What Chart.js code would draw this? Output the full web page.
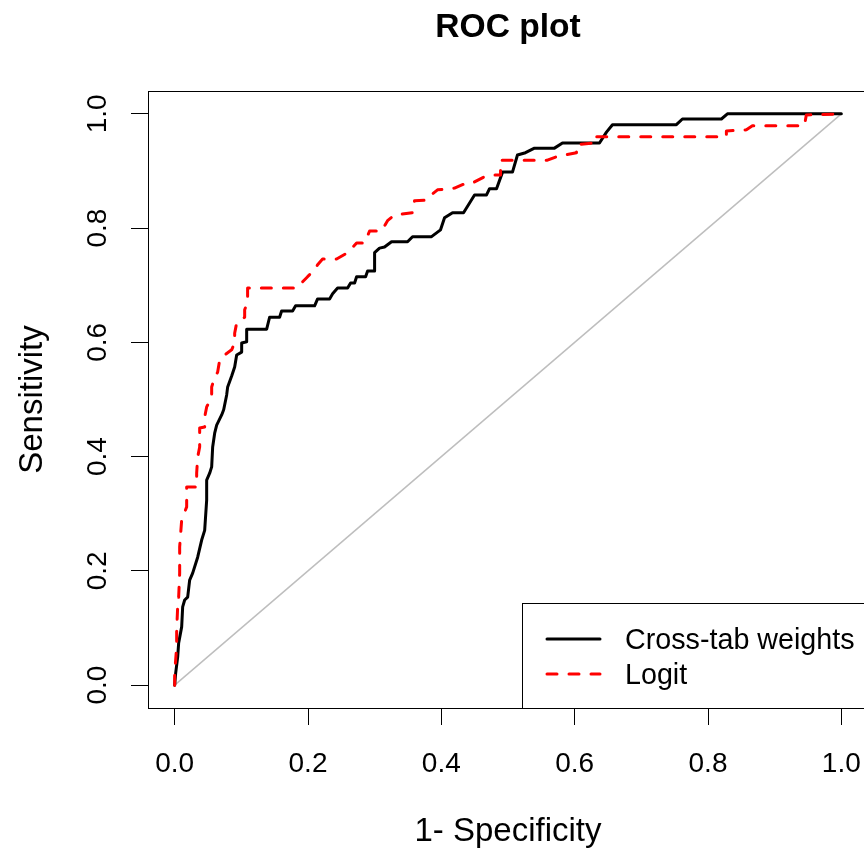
<!DOCTYPE html>
<html>
<head>
<meta charset="utf-8">
<script src="https://cdn.jsdelivr.net/npm/chart.js@4/dist/chart.umd.min.js"></script>
<style>
  html, body { margin: 0; padding: 0; overflow: hidden; background: #fff; }
  #wrap { width: 900px; height: 852px; }
</style>
</head>
<body>
<div id="wrap"><canvas id="roc" width="900" height="852"></canvas></div>
<script>
// Cross-tab weights ROC curve
const crossX = [0, 0.0015, 0.0045, 0.006, 0.0105, 0.012, 0.015, 0.0195, 0.0225, 0.027, 0.0345, 0.0405, 0.045, 0.048, 0.048, 0.0525, 0.0555, 0.057, 0.06, 0.063, 0.0705, 0.0735, 0.078, 0.0795, 0.0855, 0.09, 0.093, 0.1005, 0.1005, 0.108, 0.108, 0.138, 0.1424, 0.1574, 0.1604, 0.1769, 0.1814, 0.2099, 0.2144, 0.2324, 0.2369, 0.2444, 0.2594, 0.2639, 0.2699, 0.2729, 0.2864, 0.2894, 0.2999, 0.2999, 0.3073, 0.3148, 0.3253, 0.3493, 0.3568, 0.3853, 0.3988, 0.4048, 0.4168, 0.4333, 0.4498, 0.4678, 0.4723, 0.4828, 0.4918, 0.5067, 0.5142, 0.5262, 0.5397, 0.5697, 0.5817, 0.6372, 0.6477, 0.6567, 0.7526, 0.7616, 0.8201, 0.8291, 1]
const crossY = [0, 0.021, 0.049, 0.074, 0.102, 0.137, 0.149, 0.154, 0.184, 0.196, 0.224, 0.254, 0.271, 0.324, 0.359, 0.371, 0.382, 0.417, 0.441, 0.455, 0.473, 0.482, 0.508, 0.522, 0.541, 0.557, 0.578, 0.583, 0.599, 0.601, 0.623, 0.623, 0.644, 0.644, 0.655, 0.655, 0.664, 0.664, 0.676, 0.676, 0.685, 0.695, 0.695, 0.704, 0.704, 0.715, 0.715, 0.725, 0.725, 0.757, 0.765, 0.767, 0.776, 0.776, 0.785, 0.785, 0.797, 0.818, 0.827, 0.827, 0.858, 0.858, 0.869, 0.869, 0.898, 0.898, 0.928, 0.932, 0.94, 0.94, 0.949, 0.949, 0.968, 0.981, 0.981, 0.991, 0.991, 1, 1]

// Logit ROC curve
const logitX = [0, 0, 0.003, 0.003, 0.0045, 0.006, 0.0075, 0.0075, 0.0105, 0.018, 0.018, 0.033, 0.033, 0.0345, 0.0375, 0.0375, 0.045, 0.045, 0.048, 0.0555, 0.0555, 0.06, 0.0645, 0.0675, 0.075, 0.0855, 0.09, 0.09, 0.093, 0.105, 0.105, 0.1094, 0.1094, 0.1829, 0.1919, 0.1994, 0.2099, 0.2144, 0.2219, 0.2429, 0.2594, 0.2729, 0.2849, 0.2924, 0.3103, 0.3193, 0.3298, 0.3568, 0.3598, 0.3778, 0.3868, 0.3943, 0.4198, 0.4378, 0.4468, 0.4648, 0.4768, 0.4888, 0.4888, 0.5592, 0.5727, 0.6027, 0.6027, 0.6267, 0.6267, 0.8276, 0.8276, 0.8576, 0.8666, 0.9445, 0.9475, 1]
const logitY = [0, 0.021, 0.067, 0.096, 0.137, 0.154, 0.196, 0.242, 0.289, 0.312, 0.347, 0.347, 0.371, 0.399, 0.417, 0.45, 0.452, 0.469, 0.487, 0.504, 0.522, 0.538, 0.548, 0.569, 0.578, 0.587, 0.599, 0.616, 0.634, 0.644, 0.657, 0.671, 0.695, 0.695, 0.706, 0.715, 0.727, 0.736, 0.746, 0.746, 0.757, 0.774, 0.774, 0.795, 0.795, 0.813, 0.823, 0.827, 0.848, 0.849, 0.86, 0.867, 0.87, 0.879, 0.879, 0.89, 0.893, 0.893, 0.919, 0.919, 0.925, 0.932, 0.946, 0.949, 0.96, 0.96, 0.97, 0.972, 0.979, 0.979, 0.998, 1]

// chance line
const diagX = [0, 1]
const diagY = [0, 1]

const tickVals = [0, 0.2, 0.4, 0.6, 0.8, 1]
const tickLabels = ['0.0', '0.2', '0.4', '0.6', '0.8', '1.0']

const FONT = '"Liberation Sans", Arial, sans-serif'

const toPoints = (xs, ys) => xs.map((x, i) => ({ x: x, y: ys[i] }))

// R style: full box, title and a bottomright legend
const rStyle = {
  id: 'rStyle',
  afterDatasetsDraw(chart) {
    const { ctx, chartArea: a } = chart
    ctx.save()
    ctx.strokeStyle = '#000'
    ctx.lineWidth = 1
    ctx.strokeRect(a.left + 0.5, a.top + 0.5, a.right - a.left, a.bottom - a.top)

    // legend
    const lx = 522, ly = 603
    ctx.fillStyle = '#fff'
    ctx.fillRect(lx, ly, a.right - lx, a.bottom - ly)
    ctx.strokeRect(lx + 0.5, ly + 0.5, a.right - lx, a.bottom - ly)
    const items = [chart.data.datasets[0], chart.data.datasets[1]]
    items.forEach((ds, i) => {
      const y = 639 + i * 35
      ctx.beginPath()
      ctx.strokeStyle = ds.borderColor
      ctx.lineWidth = ds.borderWidth
      ctx.lineCap = ds.borderCapStyle || 'butt'
      ctx.setLineDash(ds.borderDash || [])
      ctx.moveTo(547, y)
      ctx.lineTo(600, y)
      ctx.stroke()
      ctx.setLineDash([])
      ctx.fillStyle = '#000'
      ctx.font = '28.7px ' + FONT
      ctx.textAlign = 'left'
      ctx.textBaseline = 'middle'
      ctx.fillText(ds.label, 625, y + 2)
    })

    // title
    ctx.fillStyle = '#000'
    ctx.font = 'bold 33.6px ' + FONT
    ctx.textAlign = 'center'
    ctx.textBaseline = 'alphabetic'
    ctx.fillText('ROC plot', (a.left + a.right) / 2, 37)
    ctx.restore()
  },
}

const axisCommon = {
  type: 'linear',
  min: -0.04,
  max: 1.04,
  afterBuildTicks: (scale) => {
    scale.ticks = tickVals.map((v) => ({ value: v }))
  },
  grid: {
    drawOnChartArea: false,
    drawTicks: true,
    tickLength: 17,
    color: '#000',
    lineWidth: 1,
  },
  border: { display: false },
}

new Chart(document.getElementById('roc').getContext('2d'), {
  type: 'scatter',
  data: {
    datasets: [
      {
        label: 'Cross-tab weights',
        data: toPoints(crossX, crossY),
        showLine: true,
        borderColor: '#000000',
        borderWidth: 3,
        borderCapStyle: 'round',
        borderJoinStyle: 'round',
        pointRadius: 0,
        order: 2,
      },
      {
        label: 'Logit',
        data: toPoints(logitX, logitY),
        showLine: true,
        borderColor: '#ff0000',
        borderWidth: 3,
        borderDash: [10, 12],
        borderCapStyle: 'round',
        borderJoinStyle: 'round',
        pointRadius: 0,
        order: 1,
      },
      {
        label: 'chance',
        data: toPoints(diagX, diagY),
        showLine: true,
        borderColor: '#bebebe',
        borderWidth: 1.5,
        pointRadius: 0,
        order: 3,
      },
    ],
  },
  options: {
    responsive: false,
    animation: false,
    layout: { padding: { top: 91, right: 32, left: 0, bottom: 0 } },
    plugins: {
      legend: { display: false },
      tooltip: { enabled: false },
      title: { display: false },
    },
    scales: {
      x: {
        ...axisCommon,
        position: 'bottom',
        afterFit: (scale) => {
          scale.height = 144
          scale.paddingLeft = 0
          scale.paddingRight = 0
        },
        ticks: {
          color: '#000',
          font: { family: FONT, size: 28 },
          padding: 22,
          maxRotation: 0,
          autoSkip: false,
          callback: (value) => tickLabels[tickVals.indexOf(value)],
        },
        title: {
          display: true,
          text: '1- Specificity',
          color: '#000',
          font: { family: FONT, size: 33 },
          padding: { top: 0, bottom: 0 },
        },
      },
      y: {
        ...axisCommon,
        position: 'left',
        afterFit: (scale) => {
          scale.width = 148
          scale.paddingTop = 0
          scale.paddingBottom = 0
        },
        ticks: {
          color: '#000',
          font: { family: FONT, size: 28 },
          padding: 13,
          minRotation: 90,
          maxRotation: 90,
          crossAlign: 'center',
          autoSkip: false,
          callback: (value) => tickLabels[tickVals.indexOf(value)],
        },
        title: {
          display: true,
          text: 'Sensitivity',
          color: '#000',
          font: { family: FONT, size: 33 },
          padding: { top: 13, bottom: 0 },
        },
      },
    },
  },
  plugins: [rStyle],
})
</script>
</body>
</html>
